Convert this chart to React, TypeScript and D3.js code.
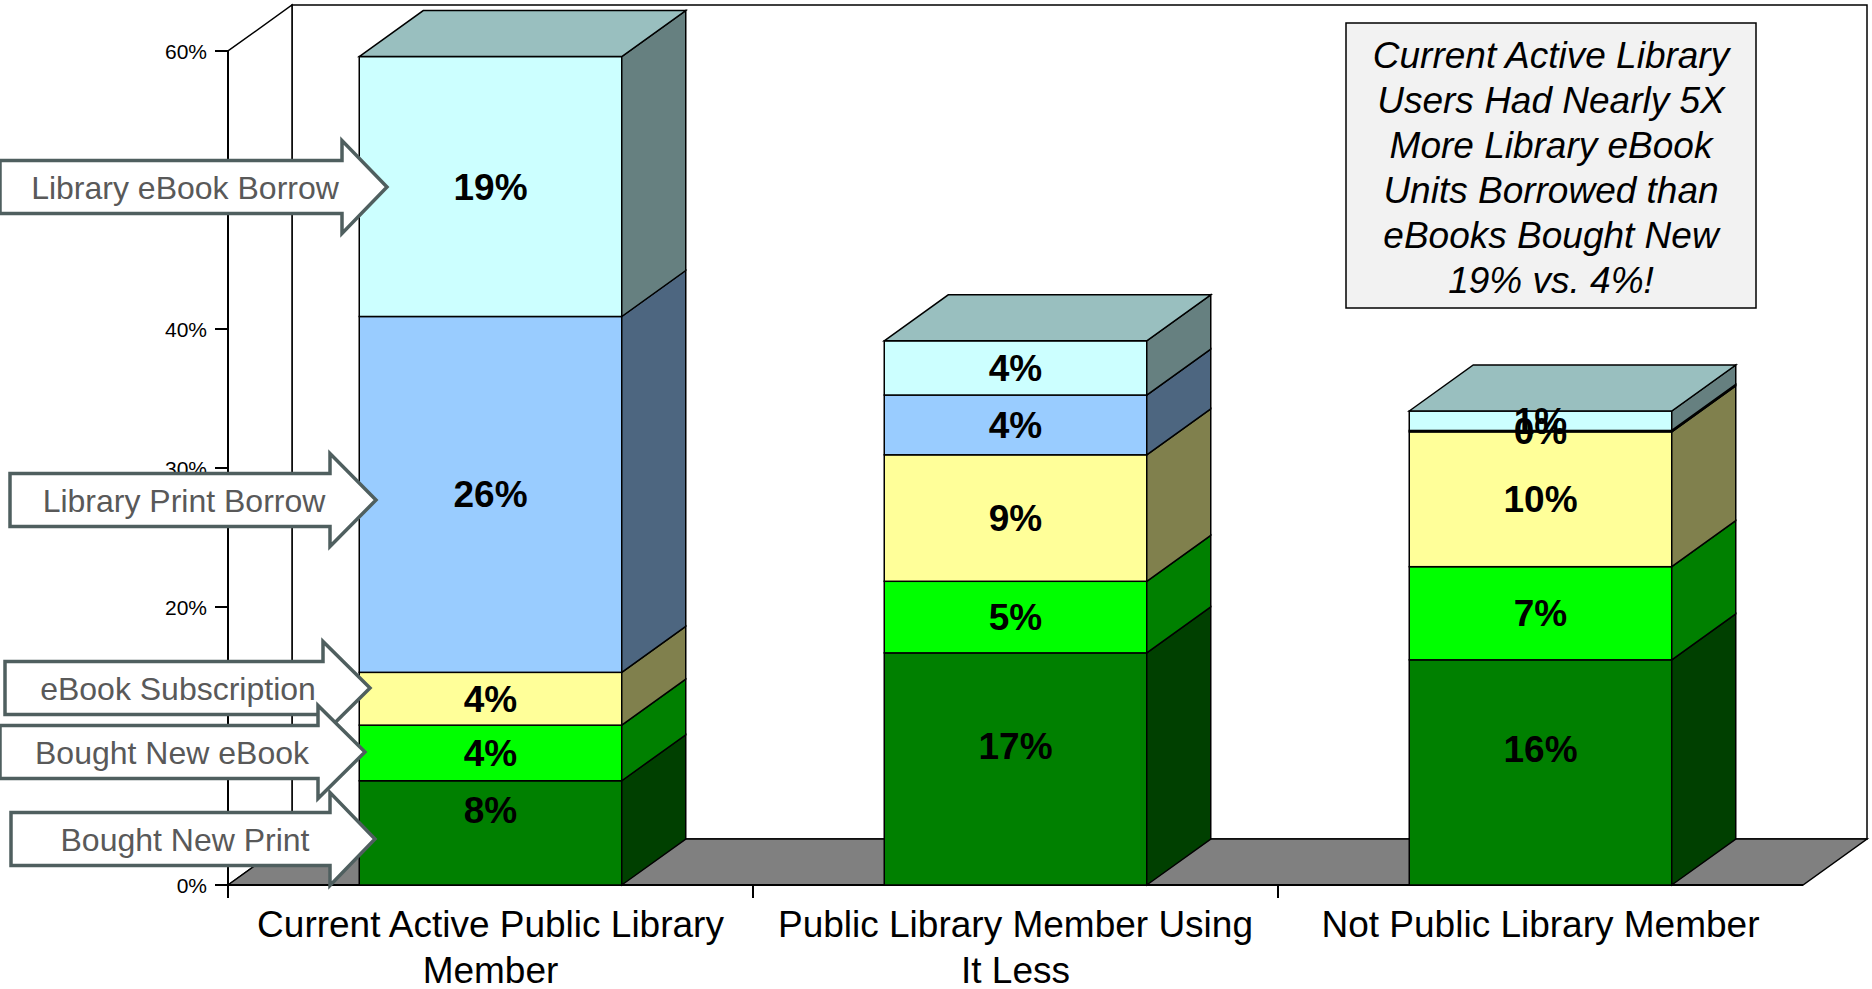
import React from "react";
import * as d3 from "d3";

// ---------- data ----------
const categories = [
  "Current Active Public Library Member",
  "Public Library Member Using It Less",
  "Not Public Library Member",
];
const categoryLines = [
  ["Current Active Public Library", "Member"],
  ["Public Library Member Using", "It Less"],
  ["Not Public Library Member"],
];
const seriesNames = [
  "Bought New Print",
  "Bought New eBook",
  "eBook Subscription",
  "Library Print Borrow",
  "Library eBook Borrow",
];
const boughtNewPrint = [7.5, 16.7, 16.2];
const boughtNewEbook = [4.0, 5.15, 6.7];
const ebookSubscription = [3.8, 9.1, 9.7];
const libraryPrintBorrow = [25.6, 4.3, 0.1];
const libraryEbookBorrow = [18.7, 3.9, 1.4];
const seriesValues = [
  boughtNewPrint,
  boughtNewEbook,
  ebookSubscription,
  libraryPrintBorrow,
  libraryEbookBorrow,
];
const yTicks = [0, 10, 20, 30, 40, 50, 60];
const calloutLines = [
  "Current Active Library",
  "Users Had Nearly 5X",
  "More Library eBook",
  "Units Borrowed than",
  "eBooks Bought New",
  "19% vs. 4%!",
];
// arrows: series index each arrow points to (callout labels on left)
const arrowSeries = [4, 3, 2, 1, 0];

// ---------- styles ----------
const W = 1872;
const H = 989;
const FONT = "'Liberation Sans', Arial, Helvetica, sans-serif";
const frontColors = ["#008000", "#00FF00", "#FFFF99", "#99CCFF", "#CCFFFF"];
const shade = (hex: string, f: number) => {
  const c = d3.rgb(hex);
  return d3.rgb(c.r * f, c.g * f, c.b * f).formatHex();
};
const DX = 64;
const DY = 46;

// arrow geometry (layout)
const arrowGeo = [
  { left: 0, cy: 187, base: 342, tip: 387, tx: 185 },
  { left: 10, cy: 500, base: 330, tip: 376, tx: 184 },
  { left: 5, cy: 688, base: 323, tip: 370, tx: 178 },
  { left: 0, cy: 752, base: 318, tip: 365, tx: 172 },
  { left: 11, cy: 839, base: 330, tip: 375, tx: 185 },
];

export default function App() {
  const x = d3
    .scaleBand<string>()
    .domain(categories)
    .range([228, 1803])
    .paddingInner(0.5)
    .paddingOuter(0.25);
  const y = d3.scaleLinear().domain([0, 60]).range([885, 51]);

  const rows = categories.map((c, i) => {
    const r: any = { cat: c };
    seriesNames.forEach((s, j) => (r[s] = seriesValues[j][i]));
    return r;
  });
  const stacked = d3.stack<any>().keys(seriesNames)(rows);

  const x0 = x.range()[0];
  const x1 = x.range()[1];
  const y0 = y(0);
  const yTop = y(60);

  const bars = categories.map((c, i) => {
    const xl = x(c)!;
    const xr = xl + x.bandwidth();
    const segs = stacked.map((layer, j) => {
      const d = layer[i];
      const yb = y(d[0]);
      const yt = y(d[1]);
      return { j, yb, yt, d };
    });
    return { c, i, xl, xr, segs };
  });

  return (
    <svg
      width={W}
      height={H}
      style={{ position: "absolute", left: 0, top: 0, background: "#fff" }}
      fontFamily={FONT}
    >
      {/* back wall */}
      <rect
        x={x0 + DX}
        y={yTop - DY}
        width={x1 - x0}
        height={y0 - yTop}
        fill="#fff"
        stroke="#000"
        strokeWidth={1.5}
      />
      {/* left wall */}
      <polygon
        points={`${x0},${y0} ${x0},${yTop} ${x0 + DX},${yTop - DY} ${x0 + DX},${y0 - DY}`}
        fill="#fff"
        stroke="#000"
        strokeWidth={1.5}
      />
      {/* floor */}
      <polygon
        points={`${x0},${y0} ${x0 + DX},${y0 - DY} ${x1 + DX},${y0 - DY} ${x1},${y0}`}
        fill="#808080"
        stroke="#000"
        strokeWidth={1.5}
      />
      {/* y axis */}
      <line x1={x0} x2={x0} y1={yTop} y2={y0 + 13} stroke="#000" strokeWidth={2} />
      {yTicks.map((t) => (
        <g key={t}>
          <line x1={x0 - 13} x2={x0} y1={y(t)} y2={y(t)} stroke="#000" strokeWidth={2} />
          <text x={207} y={y(t) + 7.5} textAnchor="end" fontSize={21} fill="#000">
            {t}%
          </text>
        </g>
      ))}
      {/* x axis ticks at band boundaries */}
      {categories.slice(1).map((c) => {
        const bx = x(c)! - (x.step() - x.bandwidth()) / 2;
        return (
          <line key={c} x1={bx} x2={bx} y1={y0} y2={y0 + 13} stroke="#000" strokeWidth={2} />
        );
      })}
      <line x1={x0} x2={x1} y1={y0} y2={y0} stroke="#000" strokeWidth={2} />

      {/* bars */}
      {bars.map((b) => (
        <g key={b.c}>
          {b.segs.map((s) => (
            <g key={s.j}>
              <rect
                x={b.xl}
                y={s.yt}
                width={b.xr - b.xl}
                height={s.yb - s.yt}
                fill={frontColors[s.j]}
                stroke="#000"
                strokeWidth={1.5}
              />
              <polygon
                points={`${b.xr},${s.yb} ${b.xr + DX},${s.yb - DY} ${b.xr + DX},${s.yt - DY} ${b.xr},${s.yt}`}
                fill={shade(frontColors[s.j], 0.5)}
                stroke="#000"
                strokeWidth={1.5}
              />
            </g>
          ))}
          {(() => {
            const top = b.segs[b.segs.length - 1];
            return (
              <polygon
                points={`${b.xl},${top.yt} ${b.xl + DX},${top.yt - DY} ${b.xr + DX},${top.yt - DY} ${b.xr},${top.yt}`}
                fill={shade(frontColors[top.j], 0.75)}
                stroke="#000"
                strokeWidth={1.5}
              />
            );
          })()}
        </g>
      ))}

      {/* value labels */}
      {bars.map((b) =>
        b.segs.map((s) => {
          const lo = s.d[0] === 0 ? y0 - DY : s.yb;
          const cy = (lo + s.yt) / 2;
          const v = s.d[1] - s.d[0];
          return (
            <text
              key={`${b.c}-${s.j}`}
              x={(b.xl + b.xr) / 2}
              y={cy + 13}
              textAnchor="middle"
              fontSize={37}
              fontWeight="bold"
              fill="#000"
            >
              {Math.round(v)}%
            </text>
          );
        })
      )}

      {/* category labels */}
      {categories.map((c, i) => (
        <text
          key={c}
          x={x(c)! + x.bandwidth() / 2}
          y={937}
          textAnchor="middle"
          fontSize={37}
          fill="#000"
        >
          {categoryLines[i].map((ln, k) => (
            <tspan key={k} x={x(c)! + x.bandwidth() / 2} dy={k === 0 ? 0 : 46}>
              {ln}
            </tspan>
          ))}
        </text>
      ))}

      {/* arrows */}
      {arrowGeo.map((a, k) => {
        const bh = 26.5;
        const hh = 46.5;
        const pts = [
          [a.left, a.cy - bh],
          [a.base, a.cy - bh],
          [a.base, a.cy - hh],
          [a.tip, a.cy],
          [a.base, a.cy + hh],
          [a.base, a.cy + bh],
          [a.left, a.cy + bh],
        ]
          .map((p) => p.join(","))
          .join(" ");
        return (
          <g key={k}>
            <polygon points={pts} fill="#fff" stroke="#4f5f5f" strokeWidth={3.5} strokeLinejoin="miter" />
            <text x={a.tx} y={a.cy + 11.5} textAnchor="middle" fontSize={32} fill="#595959">
              {seriesNames[arrowSeries[k]]}
            </text>
          </g>
        );
      })}

      {/* callout box */}
      <rect x={1346} y={23} width={410} height={285} fill="#f2f2f2" stroke="#000" strokeWidth={1.5} />
      {calloutLines.map((ln, k) => (
        <text
          key={k}
          x={1551}
          y={68.3 + k * 44.9}
          textAnchor="middle"
          fontSize={37}
          fontStyle="italic"
          fill="#000"
        >
          {ln}
        </text>
      ))}
    </svg>
  );
}
